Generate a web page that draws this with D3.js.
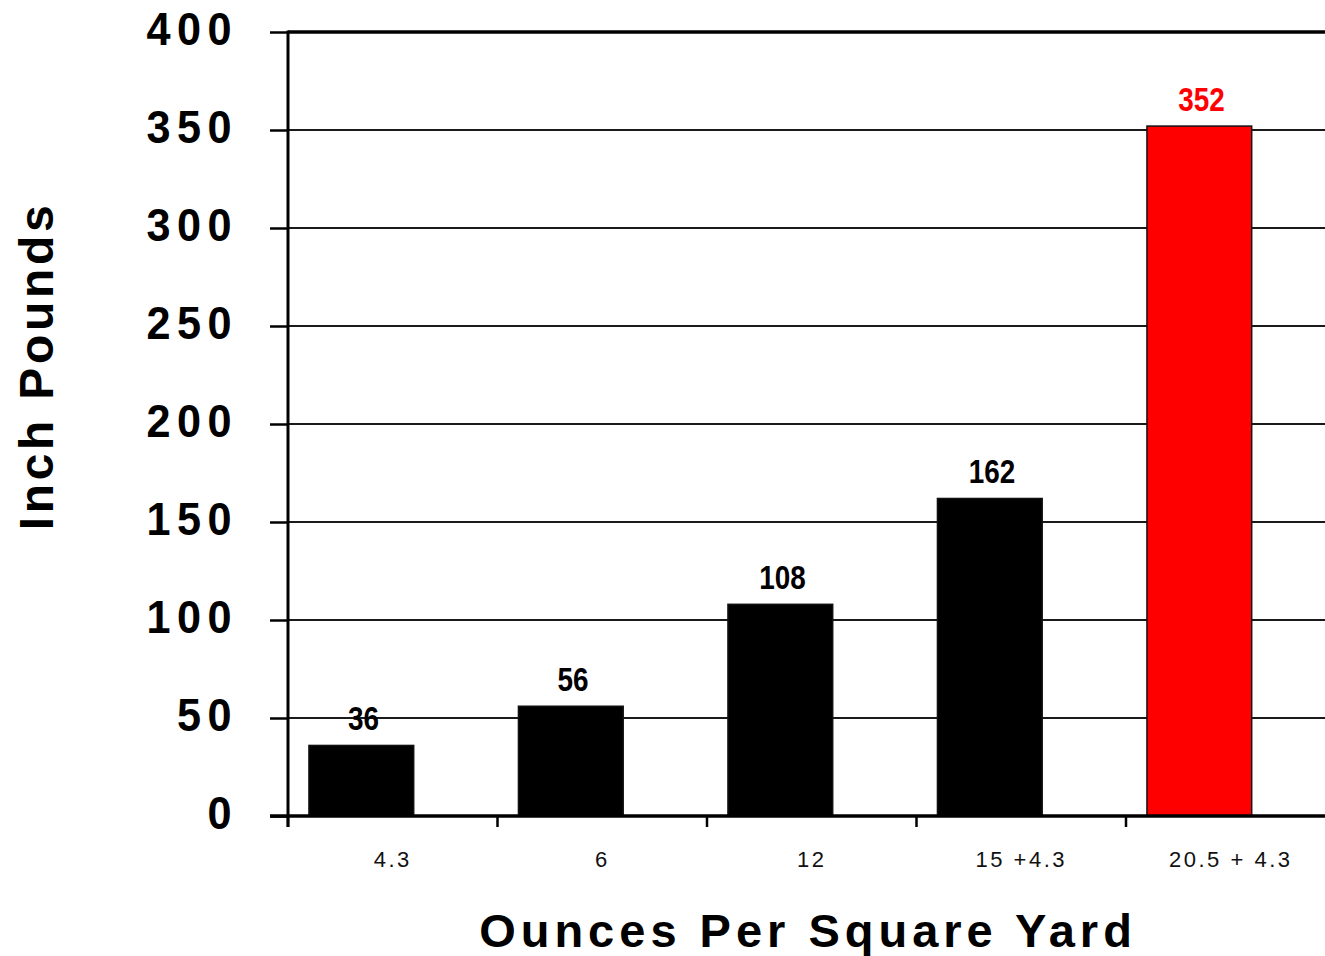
<!DOCTYPE html>
<html>
<head>
<meta charset="utf-8">
<script src="https://cdn.jsdelivr.net/npm/d3@7"></script>
<style>
    body { margin: 0; background: #ffffff; }
    svg { display: block; font-family: "Liberation Sans", Arial, sans-serif; }
</style>
</head>
<body>
<div id="wrapper"></div>
<script>
const categories = ["4.3", "6", "12", "15 +4.3", "20.5 + 4.3"];
const values = [36, 56, 108, 162, 352];
const yTicks = [0, 50, 100, 150, 200, 250, 300, 350, 400];
const highlighted = "20.5 + 4.3";

function buildPlot() {
    const data = categories.map((c, i) => ({ category: c, value: values[i] }));
    const xAccessor = (d) => d.category;
    const yAccessor = (d) => d.value;

    var dimensions = {
        width: 1325,
        height: 956,
        margin: {
            top: 32,
            right: -10.5,
            bottom: 140,
            left: 288,
        },
    };
    dimensions.boundedWidth =
        dimensions.width - dimensions.margin.left - dimensions.margin.right;
    dimensions.boundedHeight =
        dimensions.height - dimensions.margin.top - dimensions.margin.bottom;

    const wrapper = d3.select("#wrapper")
        .append("svg")
        .attr("width", dimensions.width)
        .attr("height", dimensions.height);

    const bounds = wrapper.append("g")
        .attr("transform", `translate(${dimensions.margin.left},${dimensions.margin.top})`);

    const yScale = d3.scaleLinear()
        .domain([0, 400])
        .range([dimensions.boundedHeight, 0]);

    const xScale = d3.scaleBand()
        .domain(categories)
        .range([0, dimensions.boundedWidth]);
    const bw = xScale.bandwidth();

    // сетка
    bounds.append("g")
        .selectAll("line")
        .data(yTicks.filter((t) => t > 0 && t < 400))
        .join("line")
        .attr("x1", 0)
        .attr("x2", dimensions.boundedWidth)
        .attr("y1", (d) => yScale(d))
        .attr("y2", (d) => yScale(d))
        .attr("stroke", "#1a1a1a")
        .attr("stroke-width", 2);

    // верхняя линия
    bounds.append("line")
        .attr("x1", 0)
        .attr("x2", dimensions.boundedWidth)
        .attr("y1", yScale(400))
        .attr("y2", yScale(400))
        .attr("stroke", "#000")
        .attr("stroke-width", 3.5);

    // столбцы
    bounds.append("g")
        .selectAll("rect")
        .data(data)
        .join("rect")
        .attr("x", (d) => xScale(xAccessor(d)) + bw * 0.1)
        .attr("width", bw * 0.5)
        .attr("y", (d) => yScale(yAccessor(d)))
        .attr("height", (d) => dimensions.boundedHeight - yScale(yAccessor(d)))
        .attr("fill", (d) => d.category === highlighted ? "#ff0000" : "#000000")
        .attr("stroke", "#111")
        .attr("stroke-width", 1.5);

    // подписи значений
    bounds.append("g")
        .selectAll("text")
        .data(data)
        .join("text")
        .attr("transform", (d) =>
            `translate(${xScale(xAccessor(d)) + bw * 0.36},${yScale(yAccessor(d)) - 15}) scale(0.82,1)`)
        .attr("text-anchor", "middle")
        .style("font-size", "34px")
        .style("font-weight", "bold")
        .attr("fill", (d) => d.category === highlighted ? "#ff0000" : "#000000")
        .text((d) => yAccessor(d));

    // ось Y
    const yAxisGenerator = d3.axisLeft(yScale)
        .tickValues(yTicks)
        .tickSize(18)
        .tickPadding(0)
        .tickFormat("");
    const yAxis = bounds.append("g").call(yAxisGenerator);
    yAxis.select(".domain").remove();
    yAxis.selectAll(".tick line").attr("stroke", "#000").attr("stroke-width", 2.5);

    yAxis.selectAll(".tick")
        .append("text")
        .attr("transform", "translate(-50,12) scale(0.92,1)")
        .attr("text-anchor", "end")
        .attr("fill", "#000")
        .style("font-size", "47px")
        .style("font-weight", "bold")
        .style("letter-spacing", "7px")
        .text((d) => d);

    bounds.append("line")
        .attr("x1", 0)
        .attr("x2", 0)
        .attr("y1", yScale(400) - 1.5)
        .attr("y2", dimensions.boundedHeight + 11)
        .attr("stroke", "#000")
        .attr("stroke-width", 3);

    // ось X
    bounds.append("line")
        .attr("x1", -18)
        .attr("x2", dimensions.boundedWidth)
        .attr("y1", dimensions.boundedHeight)
        .attr("y2", dimensions.boundedHeight)
        .attr("stroke", "#000")
        .attr("stroke-width", 3.5);

    bounds.append("g")
        .selectAll("line")
        .data(categories)
        .join("line")
        .attr("x1", (d) => xScale(d))
        .attr("x2", (d) => xScale(d))
        .attr("y1", dimensions.boundedHeight)
        .attr("y2", dimensions.boundedHeight + 11)
        .attr("stroke", "#000")
        .attr("stroke-width", 2.5);

    bounds.append("g")
        .selectAll("text")
        .data(categories)
        .join("text")
        .attr("x", (d) => xScale(d) + bw / 2)
        .attr("y", dimensions.boundedHeight + 51)
        .attr("text-anchor", "middle")
        .style("font-size", "22px")
        .style("letter-spacing", "2.5px")
        .attr("fill", "#111")
        .text((d) => d);

    // заголовки осей
    wrapper.append("text")
        .attr("x", 808)
        .attr("y", 947)
        .attr("text-anchor", "middle")
        .style("font-size", "47px")
        .style("font-weight", "bold")
        .style("letter-spacing", "5px")
        .text("Ounces Per Square Yard");

    wrapper.append("text")
        .attr("transform", `translate(53,366) rotate(-90)`)
        .attr("text-anchor", "middle")
        .style("font-size", "48px")
        .style("font-weight", "bold")
        .style("letter-spacing", "3.7px")
        .text("Inch Pounds");
}

buildPlot();
</script>
</body>
</html>
